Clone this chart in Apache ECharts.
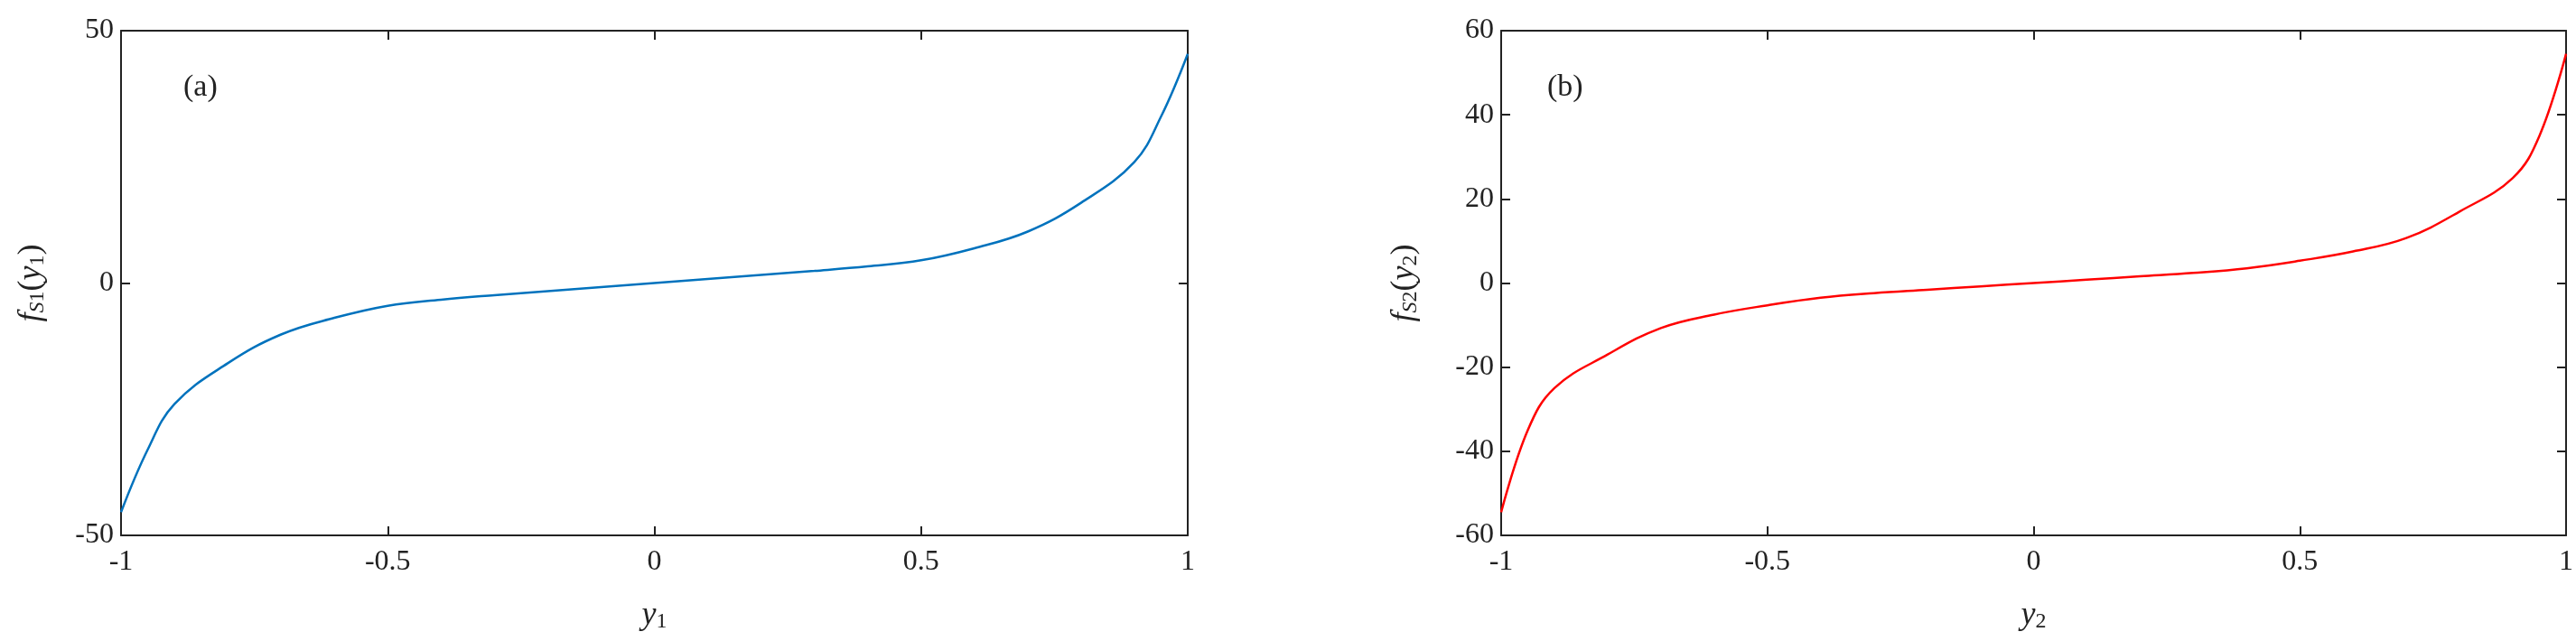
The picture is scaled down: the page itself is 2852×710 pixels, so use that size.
<!DOCTYPE html>
<html><head><meta charset="utf-8">
<script src="https://cdn.jsdelivr.net/npm/echarts@6/dist/echarts.min.js"></script>
<style>html,body{margin:0;background:#fff}#c{width:2852px;height:710px}</style>
</head><body><div id="c"></div>
<script>
const xs = [-1,-0.95,-0.9,-0.8,-0.7,-0.6,-0.5,-0.4,-0.3,-0.2,-0.1,0,0.1,0.2,0.3,0.4,0.5,0.6,0.7,0.8,0.9,0.95,1];
const fa = [-45.4,-33,-24,-15.9,-10.2,-6.9,-4.5,-3.3,-2.4,-1.6,-0.8,0,0.8,1.6,2.4,3.3,4.5,6.9,10.2,15.9,24,33,45.4];
const fb = [-54.5,-35,-25,-17,-10.7,-7.5,-5.3,-3.5,-2.4,-1.6,-0.8,0,0.8,1.6,2.4,3.5,5.3,7.5,10.7,17,25,35,54.5];
const xTicks = [-1,-0.5,0,0.5,1];

const font = 'Liberation Serif';
const chart = echarts.init(document.getElementById('c'));
const rich = {
  i:{fontFamily:font,fontStyle:'italic',fontSize:36,color:'#222'},
  s:{fontFamily:font,fontStyle:'italic',fontSize:24,color:'#222',padding:[14,0,0,0]},
  n:{fontFamily:font,fontSize:24,color:'#222',padding:[14,0,0,0]},
  p:{fontFamily:font,fontSize:36,color:'#222'}
};
function xAx(i, name, show){
  return {type:'value',gridIndex:i,min:-1,max:1,interval:0.5,position:show?'bottom':'top',
    axisLine:{onZero:false,lineStyle:{color:'#222',width:2}},
    axisTick:{inside:true,length:10,lineStyle:{color:'#222',width:2}},
    axisLabel:{show:show,fontFamily:font,fontSize:32,color:'#222',margin:14,formatter:v=>String(v)},
    splitLine:{show:false},
    name:show?name:'',nameLocation:'middle',nameGap:70,nameTextStyle:{rich:rich}};
}
function yAx(i, min, max, itv, name, show){
  return {type:'value',gridIndex:i,min:min,max:max,interval:itv,position:show?'left':'right',
    axisLine:{onZero:false,lineStyle:{color:'#222',width:2}},
    axisTick:{inside:true,length:10,lineStyle:{color:'#222',width:2}},
    axisLabel:{show:show,fontFamily:font,fontSize:32,color:'#222',margin:8},
    splitLine:{show:false},
    name:show?name:'',nameLocation:'middle',nameGap:show?(i===0?80:88):0,nameRotate:90,nameTextStyle:{rich:rich}};
}
const nA = '{i|f}{s|S}{n|1}{p|(}{i|y}{n|1}{p|)}';
const nB = '{i|f}{s|S}{n|2}{p|(}{i|y}{n|2}{p|)}';
chart.setOption({
  animation:false,
  grid:[{left:134,right:1537,top:34,bottom:117},{left:1662,right:9,top:34,bottom:117}],
  xAxis:[xAx(0,'{i|y}{n|1}',true),xAx(0,'',false),xAx(1,'{i|y}{n|2}',true),xAx(1,'',false)],
  yAxis:[yAx(0,-50,50,50,nA,true),yAx(0,-50,50,50,'',false),yAx(1,-60,60,20,nB,true),yAx(1,-60,60,20,'',false)],
  graphic:[
    {type:'text',left:203,top:80,style:{text:'(a)',font:'34px "Liberation Serif"',fill:'#222'}},
    {type:'text',left:1713,top:80,style:{text:'(b)',font:'34px "Liberation Serif"',fill:'#222'}}
  ],
  series:[
    {type:'line',xAxisIndex:0,yAxisIndex:0,data:xs.map((x,k)=>[x,fa[k]]),smooth:0.4,showSymbol:false,lineStyle:{color:'#0072BD',width:2.5}},
    {type:'line',xAxisIndex:2,yAxisIndex:2,data:xs.map((x,k)=>[x,fb[k]]),smooth:0.4,showSymbol:false,lineStyle:{color:'#FF0000',width:2.5}}
  ]
});
</script></body></html>
